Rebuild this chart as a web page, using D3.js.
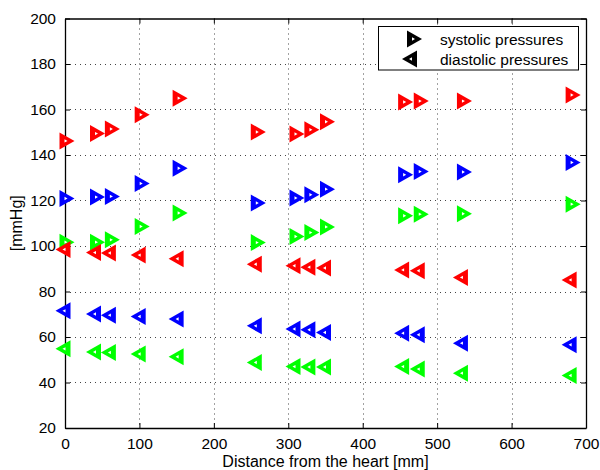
<!DOCTYPE html>
<html>
<head>
<meta charset="utf-8">
<script src="https://cdn.jsdelivr.net/npm/d3@7"></script>
<style>
  html, body { margin: 0; padding: 0; background: #fff; }
  svg { display: block; font-family: "Liberation Sans", Arial, Helvetica, sans-serif; }
</style>
</head>
<body>
<svg id="chart" width="600" height="470"></svg>
<script>
// Measurement positions along the arterial tree [mm]
const distances = [0, 41, 61, 101, 152, 257, 309, 329, 350, 455, 476, 534, 680];

// Systolic pressures [mmHg] for the three cases
const systolicRed   = [146.2, 149.4, 151.4, 157.7, 165.0, 150.1, 149.2, 151.1, 154.6, 163.3, 163.7, 163.7, 166.4];
const systolicBlue  = [120.9, 121.5, 121.8, 127.5, 134.2, 118.9, 121.1, 122.5, 125.0, 131.3, 132.7, 132.5, 136.7];
const systolicGreen = [101.7, 101.7, 102.7, 108.6, 114.5, 101.5, 104.2, 105.9, 108.4, 113.3, 114.0, 114.2, 118.4];

// Diastolic pressures [mmHg] for the three cases
const diastolicRed   = [98.5, 97.1, 96.9, 96.0, 94.4, 92.0, 91.3, 90.7, 90.3, 89.5, 89.1, 86.2, 85.1];
const diastolicBlue  = [71.5, 70.1, 69.6, 69.0, 67.9, 64.9, 63.5, 63.2, 62.0, 61.7, 61.0, 57.3, 56.6];
const diastolicGreen = [54.8, 53.4, 53.2, 52.5, 51.3, 48.8, 47.0, 46.8, 46.8, 47.0, 45.9, 44.1, 43.1];

const xTicks = [0, 100, 200, 300, 400, 500, 600, 700];
const yTicks = [20, 40, 60, 80, 100, 120, 140, 160, 180, 200];
const legendLabels = ["systolic pressures", "diastolic pressures"];

const series = [
  { values: systolicRed,    color: "#ff0000", dir: 1 },
  { values: systolicBlue,   color: "#0000ff", dir: 1 },
  { values: systolicGreen,  color: "#00ff00", dir: 1 },
  { values: diastolicRed,   color: "#ff0000", dir: -1 },
  { values: diastolicBlue,  color: "#0000ff", dir: -1 },
  { values: diastolicGreen, color: "#00ff00", dir: -1 }
];

const svg = d3.select("#chart");
const plotLeft = 65, plotRight = 586, plotTop = 18.5, plotBottom = 428;

const x = d3.scaleLinear().domain([0, 700]).range([plotLeft, plotRight]);
const y = d3.scaleLinear().domain([20, 200]).range([plotBottom, plotTop]);

// Dotted grid
const grid = svg.append("g").attr("stroke", "#444").attr("stroke-width", 1)
  .attr("stroke-dasharray", "1,4").attr("fill", "none");
grid.selectAll("line.gx").data(xTicks.slice(1, -1)).join("line")
  .attr("x1", d => Math.round(x(d)) + 0.5).attr("x2", d => Math.round(x(d)) + 0.5)
  .attr("y1", plotTop).attr("y2", plotBottom);
grid.selectAll("line.gy").data(yTicks.slice(1, -1)).join("line")
  .attr("y1", d => Math.round(y(d)) + 0.5).attr("y2", d => Math.round(y(d)) + 0.5)
  .attr("x1", plotLeft).attr("x2", plotRight);

// Axes with inward ticks on all four sides
const tickFont = "15.5px";
const axBottom = svg.append("g").attr("transform", `translate(0,${plotBottom})`)
  .call(d3.axisBottom(x).tickValues(xTicks).tickSizeInner(-5).tickSizeOuter(0).tickPadding(10));
const axLeft = svg.append("g").attr("transform", `translate(${plotLeft},0)`)
  .call(d3.axisLeft(y).tickValues(yTicks).tickSizeInner(-5).tickSizeOuter(0).tickPadding(9));
const axTop = svg.append("g").attr("transform", `translate(0,${plotTop})`)
  .call(d3.axisTop(x).tickValues(xTicks).tickSizeInner(-5).tickSizeOuter(0).tickFormat(""));
const axRight = svg.append("g").attr("transform", `translate(${plotRight},0)`)
  .call(d3.axisRight(y).tickValues(yTicks).tickSizeInner(-5).tickSizeOuter(0).tickFormat(""));
[axBottom, axLeft, axTop, axRight].forEach(a => {
  a.selectAll("path.domain").attr("stroke", "#000").attr("stroke-width", 1.3);
  a.selectAll(".tick line").attr("stroke", "#000").attr("stroke-width", 1);
  a.selectAll(".tick text").attr("fill", "#000").style("font-size", tickFont)
    .style("font-family", "'Liberation Sans', Arial, sans-serif");
});

// Triangle marker: outer filled triangle with a small white core
function tri(dir, s) {
  const b = -5.5 * s, t = 9.5 * s, h = 8.5 * s;
  return `M${dir * b},${-h}L${dir * t},0L${dir * b},${h}Z`;
}
function drawMarker(g, cx, cy, dir, color) {
  g.append("path").attr("d", tri(dir, 1)).attr("transform", `translate(${cx},${cy})`)
    .attr("fill", color);
  g.append("path").attr("d", tri(dir, 0.2)).attr("transform", `translate(${cx + dir * 0.6},${cy})`)
    .attr("fill", "#fff");
}

const marks = svg.append("g");
series.forEach(s => {
  s.values.forEach((v, i) => drawMarker(marks, x(distances[i]), y(v), s.dir, s.color));
});

// Legend
const lg = svg.append("g");
lg.append("rect").attr("x", 378.5).attr("y", 26.5).attr("width", 200).attr("height", 43.5)
  .attr("fill", "#fff").attr("stroke", "#000").attr("stroke-width", 1);
drawMarker(lg, 412.5, 39, 1, "#000");
drawMarker(lg, 411.5, 59, -1, "#000");
lg.selectAll("text").data(legendLabels).join("text")
  .attr("x", 440).attr("y", (d, i) => 44.5 + i * 20)
  .style("font-size", "15.5px").attr("fill", "#000").text(d => d);

// Axis titles
svg.append("text").attr("x", (plotLeft + plotRight) / 2).attr("y", 467)
  .attr("text-anchor", "middle").style("font-size", "16px").attr("fill", "#000")
  .text("Distance from the heart [mm]");
svg.append("text").attr("transform", `translate(22,${(plotTop + plotBottom) / 2}) rotate(-90)`)
  .attr("text-anchor", "middle").style("font-size", "16px").attr("fill", "#000")
  .text("[mmHg]");
</script>
</body>
</html>
